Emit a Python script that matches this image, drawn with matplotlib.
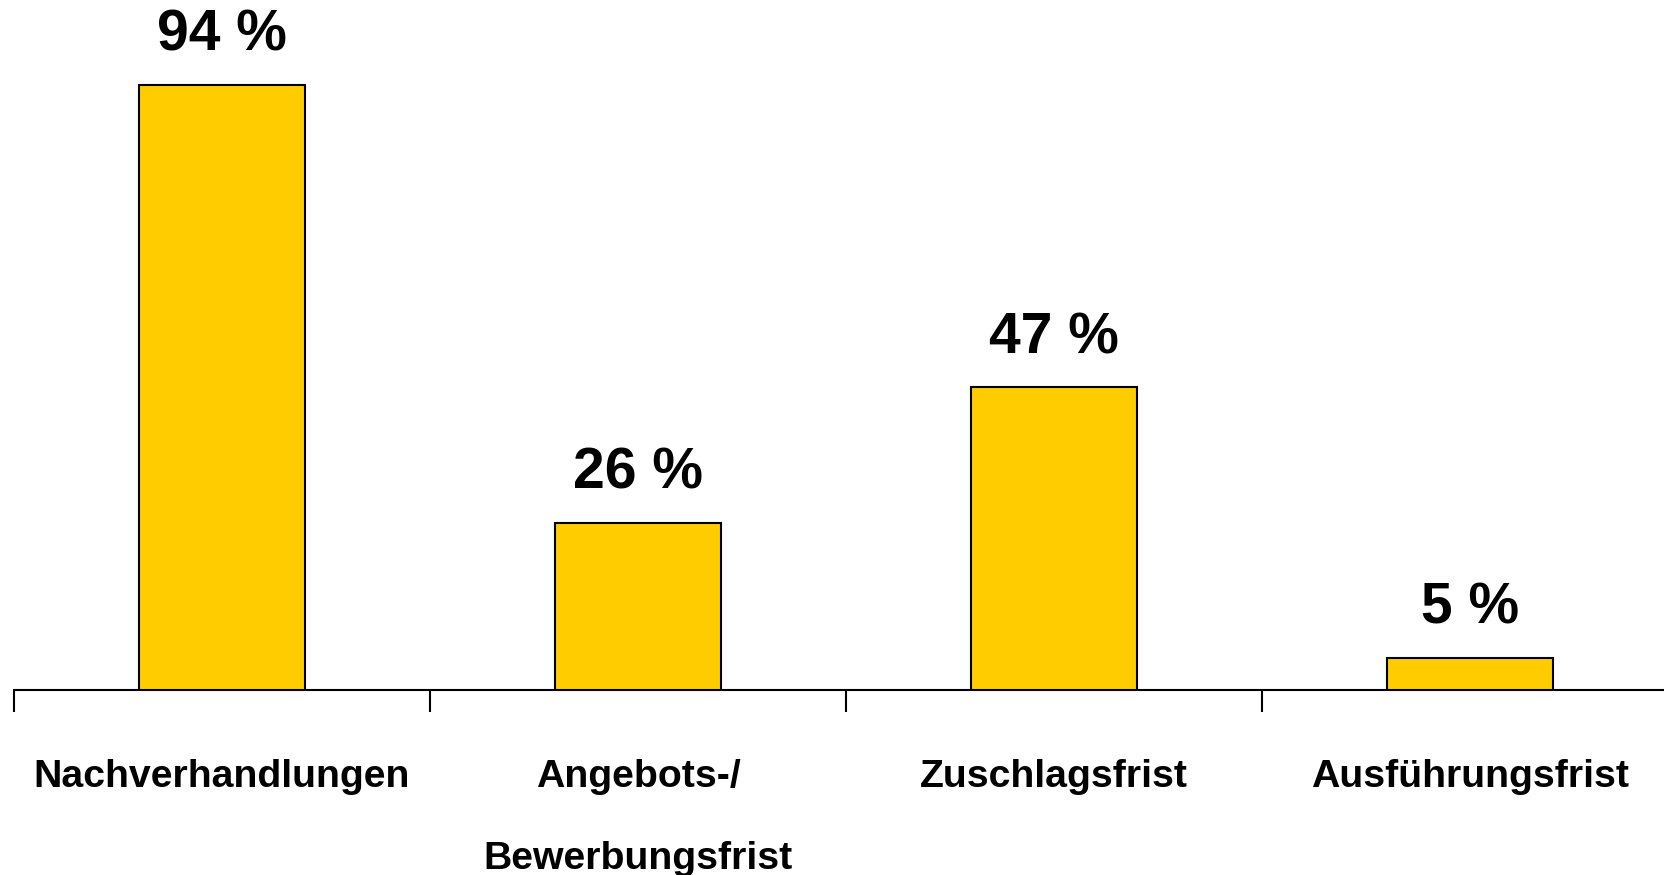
import matplotlib
matplotlib.use("Agg")
from matplotlib import pyplot as plt

kategorien = ["Nachverhandlungen", "Angebots-/\nBewerbungsfrist", "Zuschlagsfrist", "Ausführungsfrist"]
werte = [94, 26, 47, 5]
beschriftung = ["94 %", "26 %", "47 %", "5 %"]

plt.rcParams['font.family'] = ['Liberation Sans', 'DejaVu Sans']

fig = plt.figure(figsize=(16.64, 8.75), dpi=100)
ax = fig.add_axes([14/1664, 1-690/875, 1-14/1664, 644/875])

x = list(range(len(werte)))
ax.bar(x, werte, width=0.40, color="#FFCC00", edgecolor="black", linewidth=1.5, zorder=3)

for i in range(len(werte)):
    ax.text(x[i], werte[i] + 5.3, beschriftung[i], ha="center", va="baseline",
            fontsize=41, fontweight="bold", color="black")

ax.set_xlim(-0.5, -0.5 + (1664-14)/416)
ax.set_ylim(0, 100)

for s in ["top", "right", "left"]:
    ax.spines[s].set_visible(False)
ax.spines["bottom"].set_linewidth(1.5)
ax.set_yticks([])

ax.set_xticks(x)
ax.set_xticklabels(kategorien, fontsize=28.3, fontweight="bold", linespacing=2.62)
ax.tick_params(axis="x", which="major", length=0, pad=50)
ax.set_xticks([i - 0.5 for i in x], minor=True)
ax.tick_params(axis="x", which="minor", length=16, width=1.5, color="black")

plt.savefig("out.png", dpi=100)
